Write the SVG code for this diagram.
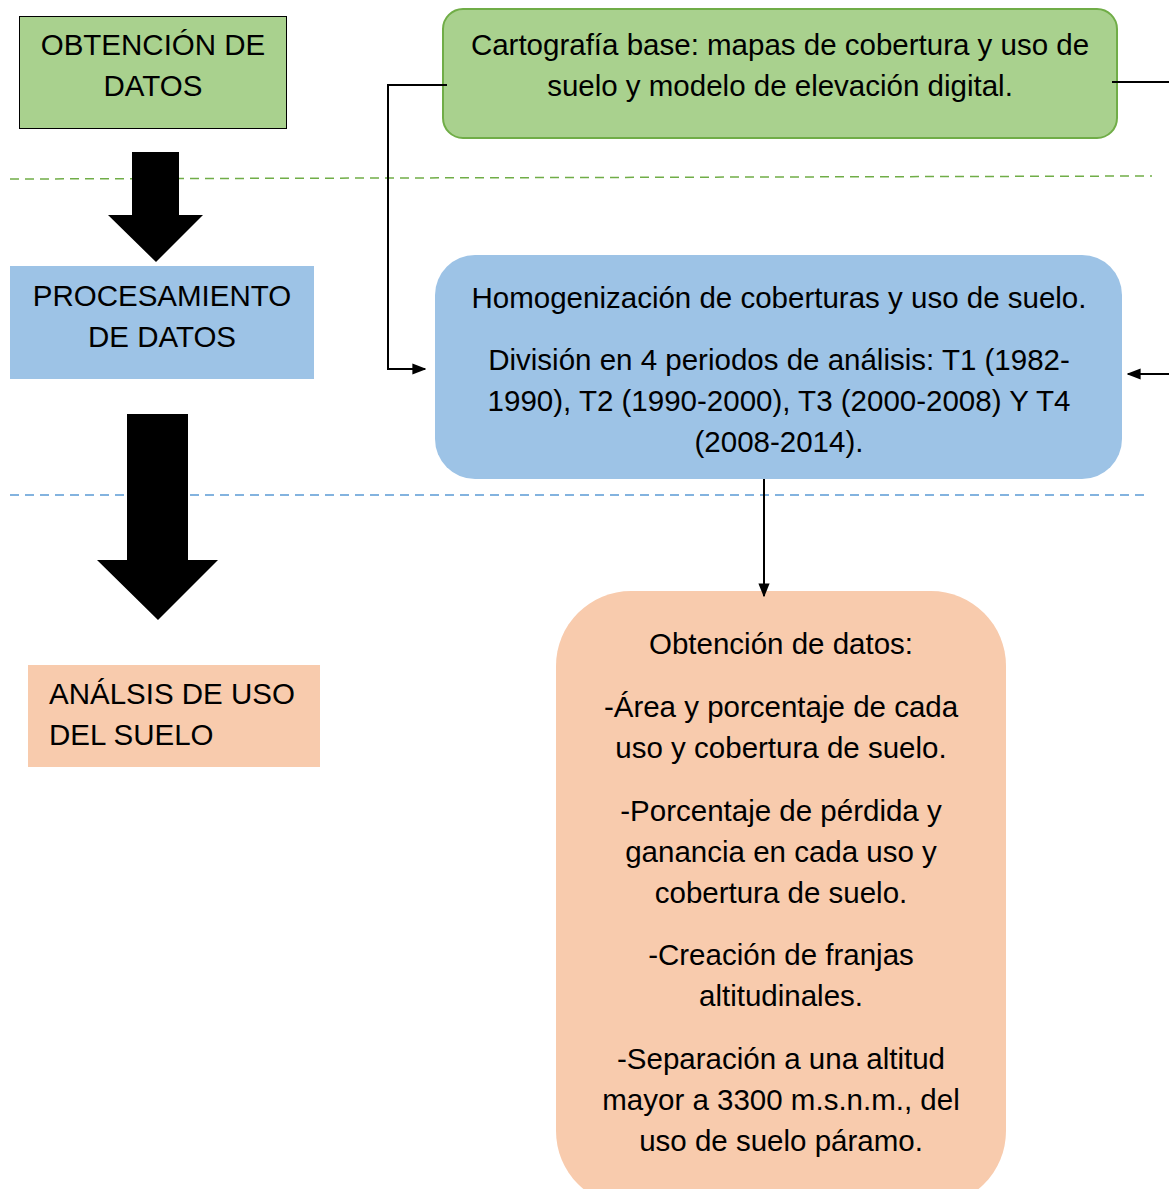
<svg xmlns="http://www.w3.org/2000/svg" width="1169" height="1189" viewBox="0 0 1169 1189">
<defs>
<style>
.t{font-family:"Liberation Sans",Arial,sans-serif;font-size:29.5px;fill:#000}
.c{text-anchor:middle}
.conn{fill:none;stroke:#000;stroke-width:2}
.big{fill:#000}
</style>
<marker id="ah2" viewBox="0 0 10 10" refX="9" refY="5" markerWidth="14" markerHeight="14" markerUnits="userSpaceOnUse" orient="auto">
<path d="M0,1 L10,5 L0,9 z" fill="#000"/>
</marker>
</defs>
<rect width="1169" height="1189" fill="#fff"/>
<g id="separators">
<line x1="10" y1="179" x2="1152" y2="176" stroke="#70ad47" stroke-width="1.5" stroke-dasharray="9,6"/>
<line x1="10" y1="495" x2="1150" y2="495" stroke="#5b9bd5" stroke-width="1.5" stroke-dasharray="9,6"/>
</g>
<g id="arrow1"><path class="big" d="M132,152 H179 V215 H203 L156,262 L108,215 H132 Z"/></g>
<g id="arrow2"><path class="big" d="M127,414 H188 V560 H218 L158,620 L97,560 H127 Z"/></g>
<g id="obtencion">
<rect x="19.5" y="16.5" width="267" height="112" fill="#a9d18e" stroke="#000" stroke-width="1"/>
<text class="t c" x="153" y="55">OBTENCIÓN DE</text>
<text class="t c" x="153" y="96">DATOS</text>
</g>
<g id="procesamiento">
<rect x="10" y="266" width="304" height="113" fill="#9dc3e6"/>
<text class="t c" x="162" y="306">PROCESAMIENTO</text>
<text class="t c" x="162" y="347">DE DATOS</text>
</g>
<g id="analisis">
<rect x="28" y="665" width="292" height="102" fill="#f8cbad"/>
<text class="t" x="49" y="704">ANÁLSIS DE USO</text>
<text class="t" x="49" y="745">DEL SUELO</text>
</g>
<g id="cartografia">
<rect x="443" y="9" width="674" height="129" rx="20" fill="#a9d18e" stroke="#70ad47" stroke-width="2"/>
<text class="t c" x="780" y="55">Cartografía base: mapas de cobertura y uso de</text>
<text class="t c" x="780" y="96">suelo y modelo de elevación digital.</text>
</g>
<g id="homogenizacion">
<rect x="435" y="255" width="687" height="224" rx="40" fill="#9dc3e6"/>
<text class="t c" x="779" y="308">Homogenización de coberturas y uso de suelo.</text>
<text class="t c" x="779" y="370">División en 4 periodos de análisis: T1 (1982-</text>
<text class="t c" x="779" y="411">1990), T2 (1990-2000), T3 (2000-2008) Y T4</text>
<text class="t c" x="779" y="452">(2008-2014).</text>
</g>
<g id="resultados">
<rect x="556" y="591" width="450" height="615" rx="75" fill="#f8cbad"/>
<text class="t c" x="781" y="654">Obtención de datos:</text>
<text class="t c" x="781" y="717">-Área y porcentaje de cada</text>
<text class="t c" x="781" y="758">uso y cobertura de suelo.</text>
<text class="t c" x="781" y="821">-Porcentaje de pérdida y</text>
<text class="t c" x="781" y="862">ganancia en cada uso y</text>
<text class="t c" x="781" y="903">cobertura de suelo.</text>
<text class="t c" x="781" y="965">-Creación de franjas</text>
<text class="t c" x="781" y="1006">altitudinales.</text>
<text class="t c" x="781" y="1069">-Separación a una altitud</text>
<text class="t c" x="781" y="1110">mayor a 3300 m.s.n.m., del</text>
<text class="t c" x="781" y="1151">uso de suelo páramo.</text>
</g>
<g id="connectors">
<polyline class="conn" points="447,85 388,85 388,369 425,369" marker-end="url(#ah2)"/>
<line class="conn" x1="1112" y1="82" x2="1169" y2="82"/>
<line class="conn" x1="1169" y1="374" x2="1128" y2="374" marker-end="url(#ah2)"/>
<line class="conn" x1="764" y1="479" x2="764" y2="596" marker-end="url(#ah2)"/>
</g>
</svg>
